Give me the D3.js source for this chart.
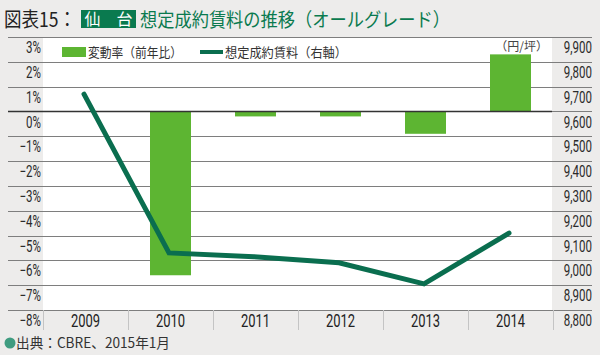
<!DOCTYPE html>
<html><head><meta charset="utf-8">
<script src="https://cdn.jsdelivr.net/npm/d3@7"></script>
<style>
body{margin:0;background:#edeceb;}
svg{display:block;}
</style></head>
<body><svg id="c" width="600" height="355"></svg>
<script>
const years = ["2009","2010","2011","2012","2013","2014"];
const changeRate = [null, -6.6, -0.2, -0.2, -0.9, 2.3];      // 変動率（前年比） %
const rent = [9670, 9030, 9015, 8990, 8905, 9110];           // 想定成約賃料 円/坪
const leftTicks = [3,2,1,0,-1,-2,-3,-4,-5,-6,-7,-8];
const rightTicks = [9900,9800,9700,9600,9500,9400,9300,9200,9100,9000,8900,8800];

const svg = d3.select("#c");
const W = 600, H = 355;
const plotL = 43, plotR = 553, plotT = 37, plotB = 310;
const numFont = "Roboto,'Liberation Sans',sans-serif";
const jpFont = "'Noto Sans CJK JP','Noto Sans',sans-serif";
const barColor = "#5db532", lineColor = "#0a6e4f";

svg.append("rect").attr("width",W).attr("height",H).attr("fill","#edeceb");
svg.append("rect").attr("x",plotL).attr("y",plotT).attr("width",plotR-plotL-1).attr("height",plotB-plotT).attr("fill","#fff");

const x = d3.scaleBand().domain(years).range([plotL, plotR]);
const yL = d3.scaleLinear().domain([-8,3]).range([plotB, plotT]);
const yR = d3.scaleLinear().domain([8800,9900]).range([plotB, plotT]);

// gridlines
svg.append("g").selectAll("line").data(leftTicks).join("line")
  .attr("x1",8).attr("x2",592)
  .attr("y1",d=>Math.round(yL(d))+0.5).attr("y2",d=>Math.round(yL(d))+0.5)
  .attr("stroke","#7e7e7e").attr("stroke-width",1);

// left axis
const gL = svg.append("g").attr("transform",`translate(41,0)`)
  .call(d3.axisLeft(yL).tickValues(leftTicks).tickSize(0).tickPadding(0)
    .tickFormat(d => (d<0 ? "−"+Math.abs(d) : d) + "%"));
gL.select(".domain").remove();
gL.selectAll("text").attr("dy","0.35em").attr("y",10).attr("transform","scale(0.72,1)")
  .style("font-family",numFont).style("font-size","16px").attr("fill","#2a2a2a");

// right axis
const gR = svg.append("g").attr("transform",`translate(592,0)`)
  .call(d3.axisLeft(yR).tickValues(rightTicks).tickSize(0).tickPadding(0)
    .tickFormat(d3.format(",")));
gR.select(".domain").remove();
gR.selectAll("text").attr("dy","0.35em").attr("y",10).attr("transform","scale(0.72,1)")
  .style("font-family",numFont).style("font-size","16px").attr("fill","#2a2a2a");

// bars
const barW = 41;
svg.append("g").selectAll("rect").data(years.map((y,i)=>({y,v:changeRate[i]})).filter(d=>d.v!==null))
  .join("rect")
  .attr("x",d=>x(d.y)+x.bandwidth()/2-barW/2)
  .attr("width",barW)
  .attr("y",d=>Math.min(yL(d.v),yL(0)))
  .attr("height",d=>Math.abs(yL(d.v)-yL(0)))
  .attr("fill",barColor);

// zero line
svg.append("line").attr("x1",8).attr("x2",552)
  .attr("y1",Math.round(yL(0))+0.5).attr("y2",Math.round(yL(0))+0.5)
  .attr("stroke","#333").attr("stroke-width",1.5);

// line
const line = d3.line().x((d,i)=>x(years[i])+x.bandwidth()/2-1.5).y(d=>yR(d));
svg.append("path").datum(rent).attr("d",line).attr("fill","none")
  .attr("stroke",lineColor).attr("stroke-width",5).attr("stroke-linejoin","miter").attr("stroke-linecap","round");

// x axis separators and labels
svg.append("g").selectAll("line").data(d3.range(years.length+1)).join("line")
  .attr("x1",i=>plotL+i*x.bandwidth()+0.5).attr("x2",i=>plotL+i*x.bandwidth()+0.5)
  .attr("y1",plotB).attr("y2",330).attr("stroke","#c4c4c4");
svg.append("g").selectAll("g").data(years).join("g")
  .attr("transform",d=>`translate(${x(d)+x.bandwidth()/2},321)`)
  .append("text").attr("dy","0.35em").attr("transform","scale(0.72,1)")
  .attr("text-anchor","middle").style("font-family",numFont).style("font-size","18px").attr("fill","#222")
  .text(d=>d);

// legend
svg.append("rect").attr("x",62).attr("y",47).attr("width",24).attr("height",10).attr("fill",barColor);
svg.append("text").attr("x",88).attr("y",52).attr("dy","0.35em").attr("textLength",94).attr("lengthAdjust","spacingAndGlyphs")
  .style("font-family",jpFont).style("font-size","13px").attr("fill","#333").text("変動率（前年比）");
svg.append("line").attr("x1",200).attr("x2",223).attr("y1",52).attr("y2",52).attr("stroke",lineColor).attr("stroke-width",4);
svg.append("text").attr("x",225).attr("y",52).attr("dy","0.35em").attr("textLength",122).attr("lengthAdjust","spacingAndGlyphs")
  .style("font-family",jpFont).style("font-size","13px").attr("fill","#333").text("想定成約賃料（右軸）");
svg.append("text").attr("x",548).attr("y",47).attr("dy","0.35em").attr("text-anchor","end").style("font-family",jpFont).style("font-size","12px").attr("fill","#444").text("（円/坪）");

// title
svg.append("text").attr("x",4).attr("y",27).attr("textLength",72).attr("lengthAdjust","spacingAndGlyphs")
  .style("font-family",jpFont).style("font-size","20px").attr("fill","#222").text("図表15：");
svg.append("rect").attr("x",81).attr("y",10).attr("width",55).attr("height",18).attr("fill","#0a7a4f");
svg.append("text").attr("x",108.5).attr("y",25).attr("text-anchor","middle").style("font-family",jpFont).style("font-size","16px").attr("fill","#fff").text("仙　台");
svg.append("text").attr("x",140).attr("y",27).attr("textLength",310).attr("lengthAdjust","spacingAndGlyphs")
  .style("font-family",jpFont).style("font-size","19px").attr("fill","#0a7a4f").text("想定成約賃料の推移（オールグレード）");

// source
svg.append("circle").attr("cx",10).attr("cy",343).attr("r",5.5).attr("fill","#3f9c80");
svg.append("text").attr("x",16).attr("y",343).attr("dy","0.35em").attr("textLength",154).attr("lengthAdjust","spacingAndGlyphs")
  .style("font-family",jpFont).style("font-size","14px").attr("fill","#333").text("出典：CBRE、2015年1月");
</script></body></html>
